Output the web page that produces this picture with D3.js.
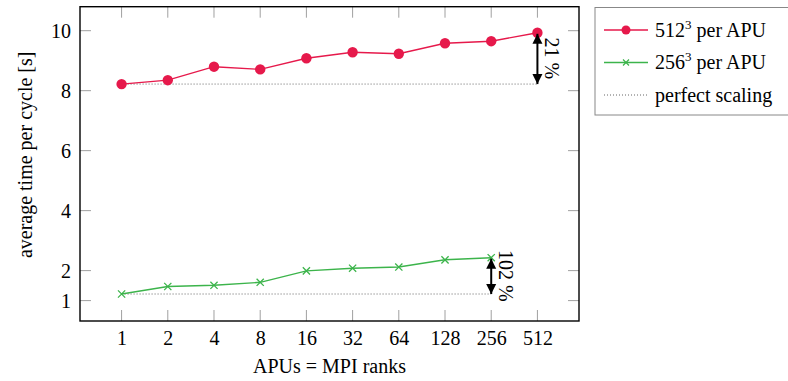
<!DOCTYPE html>
<html><head><meta charset="utf-8">
<script src="https://cdn.jsdelivr.net/npm/d3@7"></script>
<style>
svg, svg text, svg tspan { font-family: 'Liberation Serif', 'Times New Roman', Tinos, serif !important; }
</style>
</head><body style="margin:0">
<svg id="c" width="788" height="381" font-family="Liberation Serif" style="font-family:'Liberation Serif';background:#fff"></svg>
<script>
const ranks = ["1","2","4","8","16","32","64","128","256","512"];
const series512 = [8.22,8.35,8.80,8.71,9.08,9.28,9.23,9.58,9.65,9.93];
const series256 = [1.22,1.47,1.51,1.61,1.99,2.08,2.12,2.36,2.43];
const yTicks = [1,2,4,6,8,10];
const labels512 = "21 %";
const labels256 = "102 %";

const svg = d3.select("#c");
const L=80,R=579,T=6.7,B=321;
const x = d3.scalePoint().domain(ranks).range([L,R]).padding(0.9);
const y = d3.scaleLinear().domain([0.32,10.8]).range([B,T]);
const red="#e6194b", green="#3cb44b", tickCol="#a0a0a0";
const txt = sel => sel.attr("style","font-family:'Liberation Serif';font-size:20px;fill:#000");

const defs = svg.append("defs");
defs.append("marker").attr("id","ah").attr("viewBox","0 0 10 10").attr("refX",10).attr("refY",5)
 .attr("markerWidth",5).attr("markerHeight",6).attr("orient","auto-start-reverse").attr("markerUnits","strokeWidth")
 .append("path").attr("d","M0,0 L10,5 L0,10 z").attr("fill","#000");

const g = svg.append("g");
const tl=11;
ranks.forEach(r=>{
  g.append("line").attr("x1",x(r)).attr("x2",x(r)).attr("y1",B).attr("y2",B-tl).attr("stroke",tickCol);
  g.append("line").attr("x1",x(r)).attr("x2",x(r)).attr("y1",T).attr("y2",T+tl).attr("stroke",tickCol);
});
yTicks.forEach(v=>{
  g.append("line").attr("x1",L).attr("x2",L+tl).attr("y1",y(v)).attr("y2",y(v)).attr("stroke",tickCol);
  g.append("line").attr("x1",R).attr("x2",R-tl).attr("y1",y(v)).attr("y2",y(v)).attr("stroke",tickCol);
});
const xa = d3.axisBottom(x).tickSize(0).tickPadding(10);
const gx = svg.append("g").attr("transform",`translate(0,${B})`).call(xa);
gx.attr("font-family","Liberation Serif");
gx.select(".domain").remove();
gx.selectAll("text").call(txt);
const ya = d3.axisLeft(y).tickValues(yTicks).tickSize(0).tickPadding(9);
const gy = svg.append("g").attr("transform",`translate(${L},0)`).call(ya);
gy.attr("font-family","Liberation Serif");
gy.select(".domain").remove();
gy.selectAll("text").call(txt);

svg.append("line").attr("x1",x(ranks[0])).attr("x2",x(ranks[series512.length-1])).attr("y1",y(series512[0])).attr("y2",y(series512[0]))
  .attr("stroke","#666").attr("stroke-width",1).attr("stroke-dasharray","1,2");
svg.append("line").attr("x1",x(ranks[0])).attr("x2",x(ranks[series256.length-1])).attr("y1",y(series256[0])).attr("y2",y(series256[0]))
  .attr("stroke","#666").attr("stroke-width",1).attr("stroke-dasharray","1,2");

const line = d3.line().x((d,i)=>x(ranks[i])).y(d=>y(d));
svg.append("path").datum(series512).attr("d",line).attr("fill","none").attr("stroke",red).attr("stroke-width",1.4);
svg.append("path").datum(series256).attr("d",line).attr("fill","none").attr("stroke",green).attr("stroke-width",1.4);
svg.selectAll(".dr").data(series512).join("circle").attr("cx",(d,i)=>x(ranks[i])).attr("cy",d=>y(d)).attr("r",5.2).attr("fill",red);
const xm = (cx,cy,s)=>`M${cx-s},${cy-s}L${cx+s},${cy+s}M${cx-s},${cy+s}L${cx+s},${cy-s}`;
svg.selectAll(".dg").data(series256).join("path").attr("d",(d,i)=>xm(x(ranks[i]),y(d),3.6)).attr("stroke",green).attr("stroke-width",1.3).attr("fill","none");

function arrow(idx, vals, label){
  const xx = x(ranks[idx]);
  const y0 = y(vals[0]), y1 = y(vals[idx]);
  svg.append("line").attr("x1",xx).attr("x2",xx).attr("y1",y1+1).attr("y2",y0).attr("stroke","#000").attr("stroke-width",2)
    .attr("marker-start","url(#ah)").attr("marker-end","url(#ah)");
  svg.append("text").attr("transform",`translate(${xx+8},${(y0+y1)/2}) rotate(90)`).attr("text-anchor","middle")
    .call(txt).text(label);
}
arrow(series512.length-1, series512, labels512);
arrow(series256.length-1, series256, labels256);

svg.append("rect").attr("x",L).attr("y",T).attr("width",R-L).attr("height",B-T).attr("fill","none").attr("stroke","#000").attr("stroke-width",1.4);

svg.append("text").attr("x",(L+R)/2).attr("y",373).attr("text-anchor","middle").call(txt).text("APUs = MPI ranks");
svg.append("text").attr("transform",`translate(32,${(T+B)/2-9}) rotate(-90)`).attr("text-anchor","middle").call(txt).text("average time per cycle [s]");

const lg = svg.append("g");
lg.append("rect").attr("x",595).attr("y",7.5).attr("width",200).attr("height",107.5).attr("fill","#fff").attr("stroke","#888").attr("stroke-width",1);
const legendNames = ["512","256","perfect scaling"];
const items=[{c:red,m:"c",sup:true},{c:green,m:"x",sup:true},{c:"#666",m:"d",sup:false}];
items.forEach((it,i)=>{
  const cy = 30 + i*32.5;
  const ln = lg.append("line").attr("x1",604).attr("x2",648).attr("y1",cy).attr("y2",cy).attr("stroke",it.c).attr("stroke-width",it.m==="d"?1:1.4);
  if(it.m==="d") ln.attr("stroke-dasharray","1,2");
  if(it.m==="c") lg.append("circle").attr("cx",626).attr("cy",cy).attr("r",4.5).attr("fill",it.c);
  if(it.m==="x") lg.append("path").attr("d",xm(626,cy,3)).attr("stroke",it.c).attr("stroke-width",1.2);
  const t = lg.append("text").attr("x",655).attr("y",cy+6.5).call(txt);
  t.append("tspan").text(legendNames[i]);
  if(it.sup){
    t.append("tspan").attr("style","font-size:13px").attr("dy",-8).text("3");
    t.append("tspan").attr("dy",8).text(" per APU");
  }
});
</script>
</body></html>
